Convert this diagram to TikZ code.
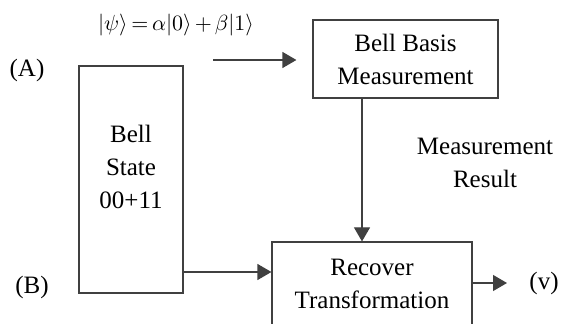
\documentclass[tikz,border=0pt]{standalone}
\usepackage{fontspec}
\setmainfont{Liberation Serif}
\usetikzlibrary{arrows.meta,positioning,calc}

\begin{document}
\begin{tikzpicture}[
  x=0.5pt, y=-0.5pt,
  box/.style={rectangle, draw=black!75, line width=0.6pt, align=center, font=\fontsize{12.5}{16.5}\selectfont},
  txt/.style={align=center, font=\fontsize{12.5}{16.5}\selectfont},
  arr/.style={-{Triangle[length=7pt,width=8pt]}, draw=black!75, line width=0.6pt}
]
  \useasboundingbox (0,0) rectangle (561,324);

  \node[box, minimum width=52pt, minimum height=113.5pt] (state) at (131,179.5) {};
  \node[txt] (statetxt) at (131,167) {Bell\\State\\00+11};
  \node[box, minimum width=92.5pt, minimum height=39pt] (basis) at (405.5,59) {Bell Basis\\Measurement};
  \node[box, minimum width=100pt, minimum height=41.5pt] (recover) at (372,283.5) {Recover\\Transformation};

  \node[font=\fontsize{10.5}{13}\selectfont] (psi) at (176,25)
    {\medmuskip=2.5mu\thickmuskip=3mu $|\psi\rangle=\alpha|0\rangle+\beta|1\rangle$};
  \node[txt] (A) at (27,70) {(A)};
  \node[txt] (B) at (32,287) {(B)};
  \node[txt] (v) at (544,283) {(v)};
  \node[txt] (res) at (485,163) {Measurement\\Result};

  \coordinate (inA) at (213,60);
  \coordinate (inB) at (183,272);
  \coordinate (m) at (362,0);
  \coordinate (out) at (507,283);

  \draw[arr, shorten >=8pt] (inA) -- (basis.west |- inA);
  \draw[arr] (inB) -- (recover.west |- inB);
  \draw[arr] (basis.south -| m) -- (recover.north -| m);
  \draw[arr] (recover.east |- out) -- (out);
\end{tikzpicture}
\end{document}
